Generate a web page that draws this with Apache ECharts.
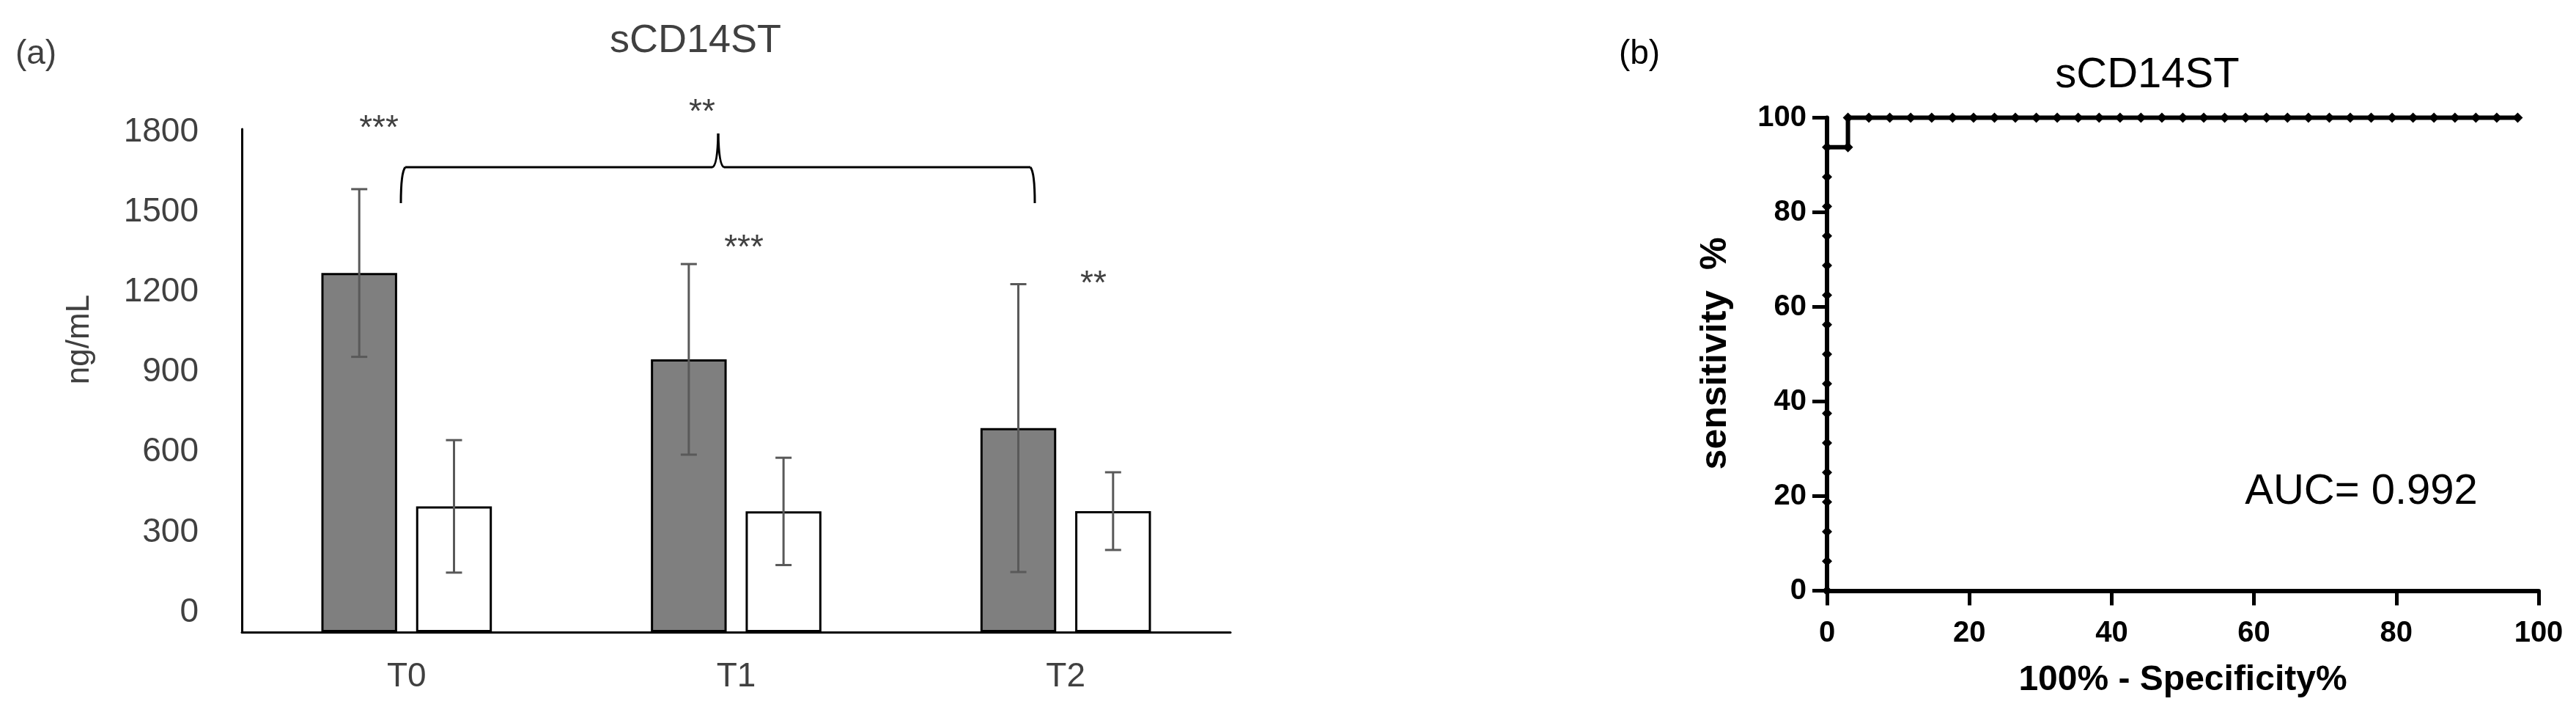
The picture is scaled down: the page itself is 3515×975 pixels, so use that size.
<!DOCTYPE html>
<html>
<head>
<meta charset="utf-8">
<script src="https://cdn.jsdelivr.net/npm/echarts@6/dist/echarts.min.js"></script>
<style>
  html, body { margin: 0; padding: 0; background: #fff; }
  #main { width: 3515px; height: 975px; }
</style>
</head>
<body>
<div id="main"></div>
<script>
// (a) bar chart values
var times = ['T0', 'T1', 'T2'];
var darkMean = [1285, 976, 730];
var darkErr = [300, 341, 515];
var whiteMean = [450, 432, 433];
var whiteErr = [237, 192, 139];
var yTicks = [0, 1800, 300];

// (b) ROC curve points
var rocX = [0, 0, 0, 0, 0, 0, 0, 0, 0, 0, 0, 0, 0, 0, 0, 0,
  2.94, 2.94, 5.88, 8.82, 11.76, 14.71, 17.65, 20.59, 23.53, 26.47, 29.41,
  32.35, 35.29, 38.24, 41.18, 44.12, 47.06, 50, 52.94, 55.88, 58.82, 61.76,
  64.71, 67.65, 70.59, 73.53, 76.47, 79.41, 82.35, 85.29, 88.24, 91.18, 94.12, 97.06];
var rocY = [0, 6.25, 12.5, 18.75, 25, 31.25, 37.5, 43.75, 50, 56.25, 62.5, 68.75,
  75, 81.25, 87.5, 93.75,
  93.75, 100, 100, 100, 100, 100, 100, 100, 100, 100, 100,
  100, 100, 100, 100, 100, 100, 100, 100, 100, 100, 100,
  100, 100, 100, 100, 100, 100, 100, 100, 100, 100, 100, 100];
var auc = 'AUC= 0.992';

var FONT = 'Liberation Sans, Arial, sans-serif';
var GREY = '#404040';

var darkRange = times.map(function (t, i) { return [i, darkMean[i] - darkErr[i], darkMean[i] + darkErr[i]]; });
var whiteRange = times.map(function (t, i) { return [i, whiteMean[i] - whiteErr[i], whiteMean[i] + whiteErr[i]]; });
var rocData = rocX.map(function (x, i) { return [x, rocY[i]]; });

function errBar(sign) {
  return function (params, api) {
    var band = api.size([1, 0])[0];
    var off = sign * band * 0.14375;
    var hi = api.coord([api.value(0), api.value(2)]);
    var lo = api.coord([api.value(0), api.value(1)]);
    var x = hi[0] + off, cap = 11;
    var st = { stroke: '#595959', lineWidth: 3 };
    return {
      type: 'group',
      children: [
        { type: 'line', shape: { x1: x, y1: hi[1], x2: x, y2: lo[1] }, style: st },
        { type: 'line', shape: { x1: x - cap, y1: hi[1], x2: x + cap, y2: hi[1] }, style: st },
        { type: 'line', shape: { x1: x - cap, y1: lo[1], x2: x + cap, y2: lo[1] }, style: st }
      ]
    };
  };
}

function txt(s, x, y, size, opts) {
  opts = opts || {};
  return {
    type: 'text', x: x, y: y, rotation: opts.rot || 0, z: 10,
    style: {
      text: s, font: (opts.bold ? 'bold ' : '') + size + 'px ' + FONT,
      fill: opts.color || GREY, align: 'center', verticalAlign: 'middle',
      textAlign: 'center', textVerticalAlign: 'middle'
    }
  };
}

var braceStyle = { stroke: '#000', lineWidth: 3, fill: null };

var chart = echarts.init(document.getElementById('main'));
chart.setOption({
  backgroundColor: '#fff',
  animation: false,
  grid: [
    { left: 330, top: 176, width: 1349, height: 686 },
    { left: 330, top: 180, width: 1349, height: 655 },
    { left: 2493, top: 160.5, width: 971, height: 645 }
  ],
  xAxis: [
    {
      type: 'category', gridIndex: 0, data: times,
      axisLine: { lineStyle: { color: '#000', width: 3 } },
      axisTick: { show: false },
      axisLabel: { fontSize: 46, fontFamily: FONT, color: GREY, margin: 38 }
    },
    { type: 'value', gridIndex: 1, show: false },
    {
      type: 'value', gridIndex: 2, min: 0, max: 100, interval: 20,
      axisLine: { lineStyle: { color: '#000', width: 6 } },
      axisTick: { length: 20, lineStyle: { color: '#000', width: 5 } },
      axisLabel: { fontSize: 40, fontWeight: 'bold', fontFamily: FONT, color: '#000', margin: 38 },
      splitLine: { show: false },
      name: '100% - Specificity%', nameLocation: 'middle', nameGap: 98,
      nameTextStyle: { fontSize: 48, fontWeight: 'bold', fontFamily: FONT, color: '#000' }
    }
  ],
  yAxis: [
    {
      type: 'value', gridIndex: 0, min: yTicks[0], max: yTicks[1], interval: yTicks[2],
      axisLine: { show: true, lineStyle: { color: '#000', width: 3 } },
      axisTick: { show: false }, axisLabel: { show: false }, splitLine: { show: false }
    },
    {
      type: 'value', gridIndex: 1, min: yTicks[0], max: yTicks[1], interval: yTicks[2],
      axisLine: { show: false }, axisTick: { show: false }, splitLine: { show: false },
      axisLabel: {
        fontSize: 46, fontFamily: FONT, color: GREY, margin: 59,
        formatter: function (v) { return String(v); }
      }
    },
    {
      type: 'value', gridIndex: 2, min: 0, max: 100, interval: 20,
      axisLine: { show: true, lineStyle: { color: '#000', width: 6 } },
      axisTick: { show: true, length: 20, lineStyle: { color: '#000', width: 5 } },
      axisLabel: { fontSize: 40, fontWeight: 'bold', fontFamily: FONT, color: '#000', margin: 28 },
      splitLine: { show: false }
    }
  ],
  series: [
    {
      type: 'bar', xAxisIndex: 0, yAxisIndex: 0, data: darkMean,
      barWidth: '23%', barGap: '25%',
      itemStyle: { color: '#7f7f7f', borderColor: '#000', borderWidth: 3 }
    },
    {
      type: 'bar', xAxisIndex: 0, yAxisIndex: 0, data: whiteMean,
      barWidth: '23%', barGap: '25%',
      itemStyle: { color: '#fff', borderColor: '#000', borderWidth: 3 }
    },
    {
      type: 'custom', xAxisIndex: 0, yAxisIndex: 0, data: darkRange,
      renderItem: errBar(-1), z: 5, encode: { x: 0, y: [1, 2] }
    },
    {
      type: 'custom', xAxisIndex: 0, yAxisIndex: 0, data: whiteRange,
      renderItem: errBar(1), z: 5, encode: { x: 0, y: [1, 2] }
    },
    {
      type: 'line', xAxisIndex: 2, yAxisIndex: 2, data: rocData,
      symbol: 'diamond', symbolSize: 14, clip: false,
      itemStyle: { color: '#000' },
      lineStyle: { color: '#000', width: 6 }, z: 6
    }
  ],
  graphic: [
    txt('(a)', 49, 74, 46),
    txt('sCD14ST', 949, 56, 54),
    txt('ng/mL', 109, 463, 44, { rot: Math.PI / 2 }),
    txt('***', 517, 176, 46),
    txt('**', 958, 154, 46),
    txt('***', 1015, 339, 46),
    txt('**', 1492, 388, 46),
    // brace over T0..T2
    { type: 'bezierCurve', shape: { x1: 547, y1: 277, x2: 553, y2: 228, cpx1: 547, cpy1: 235 }, style: braceStyle },
    { type: 'line', shape: { x1: 553, y1: 228, x2: 972, y2: 228 }, style: braceStyle },
    { type: 'bezierCurve', shape: { x1: 972, y1: 228, x2: 980, y2: 182, cpx1: 979, cpy1: 226 }, style: braceStyle },
    { type: 'bezierCurve', shape: { x1: 980, y1: 182, x2: 988, y2: 228, cpx1: 981, cpy1: 226 }, style: braceStyle },
    { type: 'line', shape: { x1: 988, y1: 228, x2: 1406, y2: 228 }, style: braceStyle },
    { type: 'bezierCurve', shape: { x1: 1406, y1: 228, x2: 1412, y2: 277, cpx1: 1412, cpy1: 235 }, style: braceStyle },
    txt('(b)', 2237, 74, 46, { color: '#000' }),
    txt('sCD14ST', 2930, 103, 58, { color: '#000' }),
    txt('sensitivity  %', 2341, 482, 50, { rot: Math.PI / 2, bold: true, color: '#000' }),
    txt(auc, 3222, 671, 58, { color: '#000' })
  ]
});
</script>
</body>
</html>
